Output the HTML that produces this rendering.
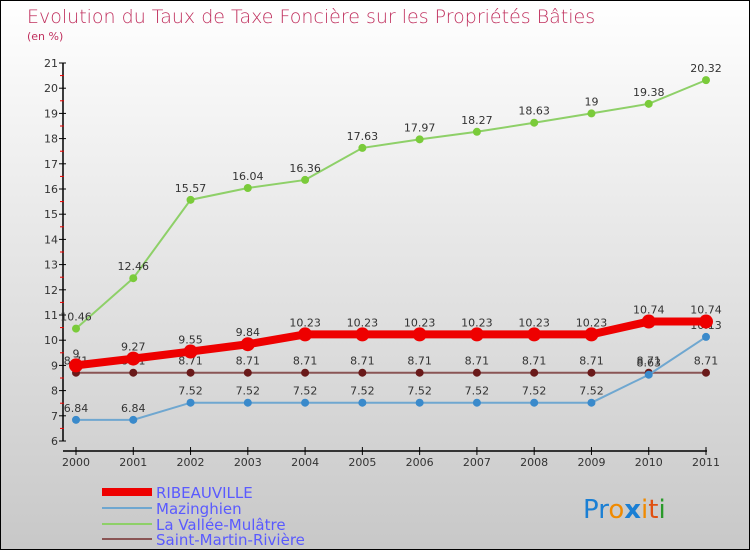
<!DOCTYPE html>
<html><head><meta charset="utf-8"><style>
body{margin:0}
#c{width:748px;height:548px;border:1px solid #000;background:linear-gradient(#fff,#c8c8c8);position:relative;font-family:"DejaVu Sans","Liberation Sans",sans-serif;overflow:hidden}
</style></head><body>
<div id="c">
<svg id="s" width="748" height="548" style="position:absolute;left:0;top:0">
<text x="26" y="22" font-size="19" fill="#c0305e" font-family="DejaVu Sans, sans-serif" font-weight="200">Evolution du Taux de Taxe Foncière sur les Propriétés Bâties</text>
<text x="26" y="39" font-size="11" fill="#c0305e">(en %)</text>
<g id="axes"></g><g id="series"></g>
<g>
<line x1="101" y1="491" x2="151" y2="491" stroke="#e00" stroke-width="8"/>
<text x="155" y="497" font-size="15" fill="#5a5aff">RIBEAUVILLE</text>
<line x1="101" y1="507" x2="151" y2="507" stroke="#6fa7d0" stroke-width="2"/>
<text x="155" y="513" font-size="15" fill="#5a5aff">Mazinghien</text>
<line x1="101" y1="523" x2="151" y2="523" stroke="#8ed068" stroke-width="2"/>
<text x="155" y="529" font-size="15" fill="#5a5aff">La Vallée-Mulâtre</text>
<line x1="101" y1="538" x2="151" y2="538" stroke="#8a5555" stroke-width="2"/>
<text x="155" y="544" font-size="15" fill="#5a5aff">Saint-Martin-Rivière</text>
</g>
<text x="582" y="517" font-size="26" font-family="DejaVu Sans, sans-serif"><tspan fill="#1a7fd4">Pr</tspan><tspan fill="#f08a00">o</tspan><tspan fill="#1a7fd4" font-weight="bold">x</tspan><tspan fill="#f08a00">i</tspan><tspan fill="#e05010">t</tspan><tspan fill="#2a9a2a">i</tspan></text>
</svg></div>
<script>
const years=[2000,2001,2002,2003,2004,2005,2006,2007,2008,2009,2010,2011];
const yTicks=[6,7,8,9,10,11,12,13,14,15,16,17,18,19,20,21];
const ribeauville=[9,9.27,9.55,9.84,10.23,10.23,10.23,10.23,10.23,10.23,10.74,10.74];
const mazinghien=[6.84,6.84,7.52,7.52,7.52,7.52,7.52,7.52,7.52,7.52,8.63,10.13];
const vallee=[10.46,12.46,15.57,16.04,16.36,17.63,17.97,18.27,18.63,19,19.38,20.32];
const stmartin=[8.71,8.71,8.71,8.71,8.71,8.71,8.71,8.71,8.71,8.71,8.71,8.71];
const NS="http://www.w3.org/2000/svg";
const X=i=>75+i*(630/11), Y=v=>440-(v-6)*25.2;
function mk(t,a,p){const e=document.createElementNS(NS,t);for(const k in a)e.setAttribute(k,a[k]);p.appendChild(e);return e;}
const ax=document.getElementById('axes');
let l=mk('line',{x1:62,y1:62,x2:62,y2:440,stroke:'#000','stroke-width':1.5},ax);


l=mk('line',{x1:62,y1:450,x2:706,y2:450,stroke:'#000','stroke-width':1.5},ax);


yTicks.forEach((v,i)=>{
 mk('line',{x1:58,y1:Y(v),x2:65,y2:Y(v),stroke:'#000'},ax);
 if(i<yTicks.length-1)mk('line',{x1:59,y1:Y(v+0.5),x2:63,y2:Y(v+0.5),stroke:'#e00'},ax);
 const t=mk('text',{x:57,y:Y(v)+4,'font-size':11,fill:'#333','text-anchor':'end'},ax);t.textContent=v;
 
 
});
years.forEach((y,i)=>{
 mk('line',{x1:X(i),y1:446,x2:X(i),y2:454,stroke:'#000'},ax);
 const t=mk('text',{x:X(i),y:465,'font-size':11,fill:'#333','text-anchor':'middle'},ax);t.textContent=y;
 
 
});
const sg=document.getElementById('series');
function draw(name,vals,color,w,r,dot){
 const g=mk('g',{},sg);
 
 
 mk('polyline',{points:vals.map((v,i)=>X(i)+','+Y(v)).join(' '),fill:'none',stroke:color,'stroke-width':w},g);
 vals.forEach((v,i)=>{
  const c=mk('circle',{cx:X(i),cy:Y(v),r:r,fill:dot},g);
  
  
  const t=mk('text',{x:X(i),y:Y(v)-8,'font-size':11,fill:'#333','text-anchor':'middle'},g);t.textContent=v;
  
  
 });
}
draw('saint-martin-riviere',stmartin,'#8a5555',2,4,'#6a1a1a');
draw('mazinghien',mazinghien,'#6fa7d0',2,4,'#3a8acb');
draw('la-vallee-mulatre',vallee,'#8ed068',2,4,'#7acb3a');
draw('ribeauville',ribeauville,'#e00',8,7,'#e00');
</script>
</body></html>
